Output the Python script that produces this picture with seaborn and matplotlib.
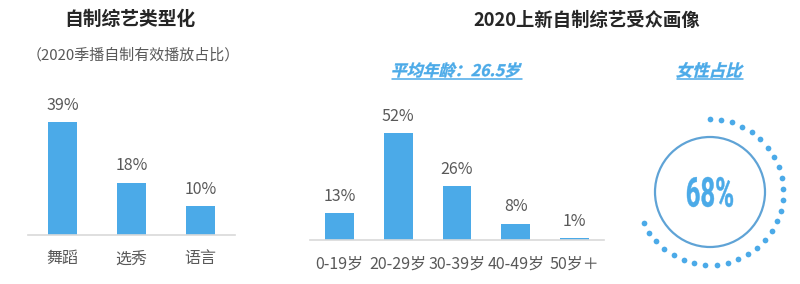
import numpy as np
import pandas as pd
import matplotlib
matplotlib.use('Agg')
import matplotlib.pyplot as plt
import seaborn as sns
from matplotlib.textpath import TextPath
from matplotlib.font_manager import FontProperties
from matplotlib.patches import PathPatch, Circle
from matplotlib.transforms import Affine2D

# ---------------- data ----------------
type_categories = ['舞蹈', '选秀', '语言']
type_shares = [39, 18, 10]

age_groups = ['0-19岁', '20-29岁', '30-39岁', '40-49岁', '50岁＋']
age_shares = [13, 52, 26, 8, 1]

female_share = 68
avg_age = 26.5

title_left = '自制综艺类型化'
subtitle_left = '（2020季播自制有效播放占比）'
title_right = '2020上新自制综艺受众画像'
avg_label = f'平均年龄：{avg_age}岁'
female_label = '女性占比'

# ---------------- style ----------------
sns.set_theme(style='white')
plt.rcParams['font.family'] = ['Noto Sans CJK SC', 'DejaVu Sans']

W, H = 800, 284
BLUE = '#4BAAE8'
RING = '#5FA3D6'
GRAY = '#595959'
DARK = '#262626'
LINE = '#D9D9D9'

fig = plt.figure(figsize=(W / 100, H / 100), dpi=100)
fig.patch.set_facecolor('white')


def px_axes(left, top, right, bottom):
    return fig.add_axes([left / W, 1 - bottom / H, (right - left) / W, (bottom - top) / H])


def style_bar_axes(ax, pad):
    sns.despine(ax=ax, left=True, top=True, right=True)
    ax.spines['bottom'].set_color(LINE)
    ax.spines['bottom'].set_linewidth(1.2)
    ax.set_yticks([])
    ax.set_xlabel('')
    ax.set_ylabel('')
    ax.tick_params(axis='x', length=0, pad=pad, labelsize=11.5, labelcolor=GRAY)
    ax.patch.set_alpha(0)


# left bar chart
ax1 = px_axes(28, 90, 235, 235)
df1 = pd.DataFrame({'cat': type_categories, 'share': type_shares})
sns.barplot(data=df1, x='cat', y='share', color=BLUE, saturation=1, width=0.42,
            linewidth=0, ax=ax1)
ax1.set_xlim(-0.5, len(type_categories) - 0.5)
ax1.set_ylim(0, 145 / 2.9)
ax1.bar_label(ax1.containers[0], labels=[f'{v}%' for v in type_shares],
              padding=6, fontsize=11.5, color=GRAY)
style_bar_axes(ax1, 11)

# middle bar chart
ax2 = px_axes(310, 90, 604, 240)
df2 = pd.DataFrame({'age': age_groups, 'share': age_shares})
sns.barplot(data=df2, x='age', y='share', color=BLUE, saturation=1, width=0.49,
            linewidth=0, ax=ax2)
ax2.set_xlim(-0.5, len(age_groups) - 0.5)
ax2.set_ylim(0, 150 / 2.06)
ax2.bar_label(ax2.containers[0], labels=[f'{v}%' for v in age_shares],
              padding=6, fontsize=11.5, color=GRAY)
style_bar_axes(ax2, 11.5)

# overlay in pixel coordinates
ov = fig.add_axes([0, 0, 1, 1])
ov.set_xlim(0, W)
ov.set_ylim(H, 0)
ov.axis('off')
ov.patch.set_alpha(0)


def path_text(ax, s, cx, cy, size_px, color, family, weight='bold', skew=0.0,
              fit_w=None, fit_h=None):
    fp = FontProperties(family=family, weight=weight)
    tp = TextPath((0, 0), s, size=size_px, prop=fp)
    ext0 = tp.get_extents()
    sx, sy = 1.0, 1.0
    if fit_h is not None:
        sy = fit_h / ext0.height
        sx = sy
    if fit_w is not None:
        sx = fit_w / ext0.width
    p = Affine2D().scale(sx, sy).skew_deg(skew, 0).transform_path(tp)
    ext = p.get_extents()
    mx, my = (ext.x0 + ext.x1) / 2, (ext.y0 + ext.y1) / 2
    p2 = Affine2D().translate(-mx, -my).scale(1, -1).translate(cx, cy).transform_path(p)
    ax.add_patch(PathPatch(p2, facecolor=color, edgecolor=color, lw=0.3))
    return ext.width, ext.height


# titles
ov.text(130, 19, title_left, ha='center', va='center', fontsize=13.5,
        fontweight='bold', color=DARK)
ov.text(133, 55, subtitle_left, ha='center', va='center', fontsize=10.8, color=GRAY)
ov.text(587, 20, title_right, ha='center', va='center', fontsize=13.2,
        fontweight='bold', color=DARK)

# blue italic labels with underline
w, h = path_text(ov, avg_label, 457, 70, 16, BLUE, 'Noto Sans CJK SC', skew=14)
ov.plot([457 - w / 2, 457 + w / 2], [78.5, 78.5], color=BLUE, lw=1.1)
w, h = path_text(ov, female_label, 710, 70, 16.5, BLUE, 'Noto Sans CJK SC', skew=14)
ov.plot([710 - w / 2, 710 + w / 2], [78.5, 78.5], color=BLUE, lw=1.1)

# ring
cx, cy, r_in, r_out = 710, 192, 55, 73
ov.add_patch(Circle((cx, cy), r_in, fill=False, ec=RING, lw=1.6))
span = np.deg2rad(female_share / 100 * 360)
n_dots = int(round(r_out * span / 11)) + 1
theta = np.pi / 2 - np.linspace(0, span, n_dots)
dots = pd.DataFrame({'x': cx + r_out * np.cos(theta), 'y': cy - r_out * np.sin(theta)})
sns.scatterplot(data=dots, x='x', y='y', ax=ov, color=BLUE, s=17, linewidth=0)
ov.set_xlim(0, W)
ov.set_ylim(H, 0)
ov.axis('off')

path_text(ov, f'{female_share}%', cx, cy, 40, BLUE, 'Roboto', weight='bold',
          fit_w=46, fit_h=30)

fig.savefig('out.png', dpi=100, facecolor='white')
